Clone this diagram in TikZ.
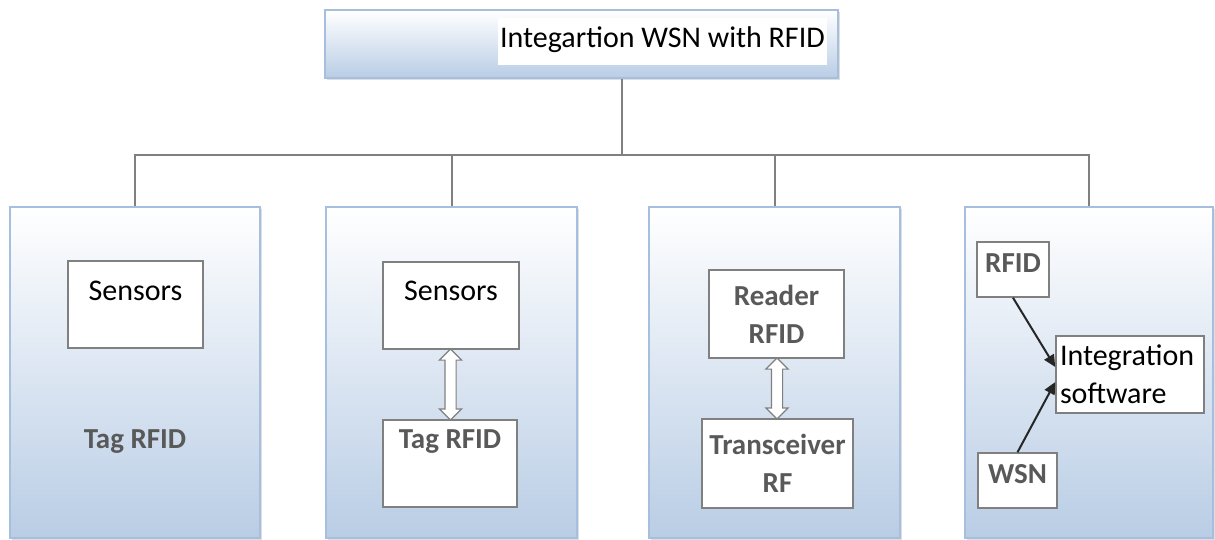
\documentclass[tikz,border=0pt]{standalone}
\usepackage{fontspec}
\setmainfont{Carlito}
\usetikzlibrary{positioning,calc,shapes.arrows,arrows.meta,shadows}
\definecolor{panelblue}{RGB}{185,205,229}
\definecolor{panelline}{RGB}{167,191,222}
\definecolor{boxline}{RGB}{128,128,128}
\definecolor{labelgray}{RGB}{89,89,89}

\begin{document}
\begin{tikzpicture}[x=1pt, y=-1pt, font=\fontsize{30}{38}\selectfont,
    panel/.style={draw=panelline, line width=1.5pt, top color=white, bottom color=panelblue,
        drop shadow={shadow xshift=2pt, shadow yshift=-2pt, opacity=0.25}, inner sep=0pt},
    inbox/.style={draw=boxline, line width=1.5pt, fill=white, inner sep=0pt},
    tagtext/.style={font=\fontsize{29}{38}\selectfont\bfseries, text=labelgray},
    wire/.style={draw=boxline, line width=2pt},
    dblarrow/.style={double arrow, draw=boxline, line width=1.2pt, fill=white, rotate=90,
        inner sep=5pt, double arrow head extend=5.5pt},
    feed/.style={line width=2pt, draw=black!85, -{Triangle[length=12pt,width=11pt]}}]
    \useasboundingbox (0,0) rectangle (1215,540);

    \node[panel, minimum width=513, minimum height=68] (top) at (581.5,44) {};
    \node[fill=white, inner sep=0pt, minimum width=329, text height=30, text depth=17, anchor=base] (title) at (662.5,48) {Integartion WSN with RFID};

    \node[panel, minimum width=250, minimum height=331] (p1) at (135,372.5) {};
    \node[panel, minimum width=251, minimum height=331] (p2) at (451.5,372.5) {};
    \node[panel, minimum width=251, minimum height=331] (p3) at (774.5,372.5) {};
    \node[panel, minimum width=248, minimum height=331] (p4) at (1089,372.5) {};

    \coordinate (bus) at (622,155);
    \draw[wire] (top.south -| bus) -- (bus);
    \draw[wire] (p1.north) |- (bus) -| (p4.north);
    \draw[wire] (p2.north) -- (p2.north |- bus);
    \draw[wire] (p3.north) -- (p3.north |- bus);

    \node[inbox, minimum width=135, text height=39, text depth=48, anchor=base] (sens1) at (135.5,300) {Sensors};
    \node[tagtext, anchor=base] (tag1) at (135,448) {Tag RFID};

    \node[inbox, minimum width=136, text height=38, text depth=49, anchor=base] (sens2) at (451,300) {Sensors};
    \node[inbox, tagtext, minimum width=134, text height=28, text depth=59, anchor=base] (tag2) at (450,448) {Tag RFID};
    \node[dblarrow, minimum height=71] (a2) at ($(sens2.south)!0.5!(tag2.north)$) {};

    \node[inbox, tagtext, minimum width=135, minimum height=88, align=center] (reader) at (776.5,314) {Reader\\RFID};
    \node[inbox, tagtext, minimum width=151, minimum height=89, align=center] (trx) at (777.5,463.5) {Transceiver\\RF};
    \node[dblarrow, minimum height=61] (a3) at ($(reader.south)!0.5!(trx.north)$) {};

    \node[inbox, tagtext, minimum width=72, text height=30, text depth=25, anchor=base] (rfid) at (1013,272) {RFID};
    \node[inbox, tagtext, minimum width=79, text height=30, text depth=25, anchor=base] (wsn) at (1017.5,483) {WSN};
    \node[inbox, text width=140, minimum height=77, align=left, inner xsep=4pt] (integ) at (1130,374.5) {Integration\\software};
    \draw[feed] (rfid.south) -- ($(integ.west)+(0,-7.5)$);
    \draw[feed] (wsn.north) -- ($(integ.west)+(0,7.5)$);
\end{tikzpicture}
\end{document}
